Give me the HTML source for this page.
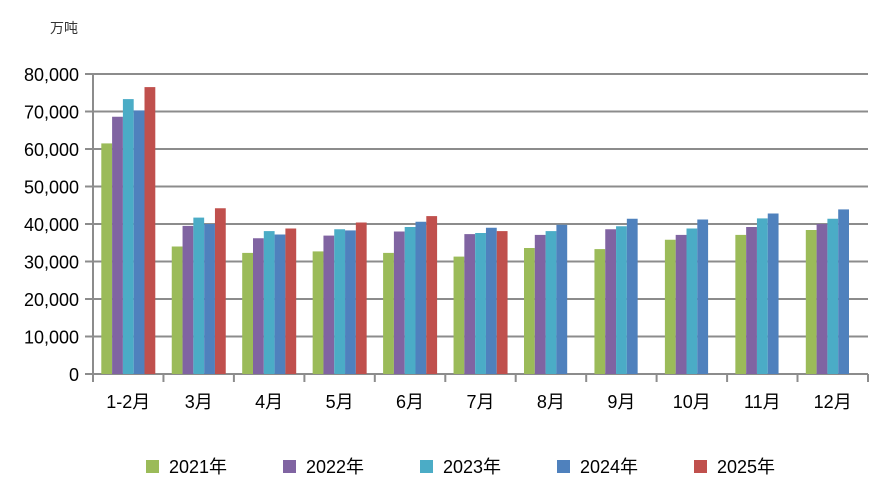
<!DOCTYPE html>
<html><head><meta charset="utf-8"><style>
html,body{margin:0;padding:0;background:#fff;}
svg{display:block;font-family:"Liberation Sans","Noto Sans CJK SC",sans-serif;}
</style></head><body>
<svg width="891" height="499" viewBox="0 0 891 499" xmlns="http://www.w3.org/2000/svg">
<text x="50" y="33" font-size="14" fill="#333">万吨</text>
<g stroke="#8c8c8c" stroke-width="2">
<line x1="85" x2="868" y1="374" y2="374"/>
<line x1="85" x2="868" y1="336.5" y2="336.5"/>
<line x1="85" x2="868" y1="299" y2="299"/>
<line x1="85" x2="868" y1="261.5" y2="261.5"/>
<line x1="85" x2="868" y1="224" y2="224"/>
<line x1="85" x2="868" y1="186.5" y2="186.5"/>
<line x1="85" x2="868" y1="149" y2="149"/>
<line x1="85" x2="868" y1="111.5" y2="111.5"/>
<line x1="85" x2="868" y1="74" y2="74"/>
<line x1="93" x2="93" y1="74" y2="382"/>
<line x1="163.45" x2="163.45" y1="374" y2="382"/>
<line x1="233.9" x2="233.9" y1="374" y2="382"/>
<line x1="304.4" x2="304.4" y1="374" y2="382"/>
<line x1="374.8" x2="374.8" y1="374" y2="382"/>
<line x1="445.3" x2="445.3" y1="374" y2="382"/>
<line x1="515.7" x2="515.7" y1="374" y2="382"/>
<line x1="586.2" x2="586.2" y1="374" y2="382"/>
<line x1="656.6" x2="656.6" y1="374" y2="382"/>
<line x1="727.1" x2="727.1" y1="374" y2="382"/>
<line x1="797.5" x2="797.5" y1="374" y2="382"/>
<line x1="868" x2="868" y1="374" y2="382"/>
</g>
<g font-size="18" fill="#000" text-anchor="end">
<text x="79" y="381">0</text>
<text x="79" y="343.5">10,000</text>
<text x="79" y="306">20,000</text>
<text x="79" y="268.5">30,000</text>
<text x="79" y="231">40,000</text>
<text x="79" y="193.5">50,000</text>
<text x="79" y="156">60,000</text>
<text x="79" y="118.5">70,000</text>
<text x="79" y="81">80,000</text>
</g>
<g font-size="18" fill="#000" text-anchor="middle">
<text x="128.2" y="408">1-2月</text>
<text x="198.7" y="408">3月</text>
<text x="269.1" y="408">4月</text>
<text x="339.6" y="408">5月</text>
<text x="410" y="408">6月</text>
<text x="480.5" y="408">7月</text>
<text x="550.9" y="408">8月</text>
<text x="621.4" y="408">9月</text>
<text x="691.8" y="408">10月</text>
<text x="762.3" y="408">11月</text>
<text x="832.7" y="408">12月</text>
</g>
<g transform="translate(101.3,0)">
<rect x="0" y="143.4" width="10.8" height="230.6" fill="#9bbb59"/><rect x="10.8" y="116.75" width="10.8" height="257.25" fill="#8064a2"/><rect x="21.6" y="99.1" width="10.8" height="274.9" fill="#4bacc6"/><rect x="32.4" y="110.4" width="10.8" height="263.6" fill="#4f81bd"/><rect x="43.2" y="87.1" width="10.8" height="286.9" fill="#c0504d"/>
</g>
<g transform="translate(171.75,0)">
<rect x="0" y="246.5" width="10.8" height="127.5" fill="#9bbb59"/><rect x="10.8" y="225.9" width="10.8" height="148.1" fill="#8064a2"/><rect x="21.6" y="217.6" width="10.8" height="156.4" fill="#4bacc6"/><rect x="32.4" y="224" width="10.8" height="150" fill="#4f81bd"/><rect x="43.2" y="208.25" width="10.8" height="165.75" fill="#c0504d"/>
</g>
<g transform="translate(242.2,0)">
<rect x="0" y="252.9" width="10.8" height="121.1" fill="#9bbb59"/><rect x="10.8" y="238.25" width="10.8" height="135.75" fill="#8064a2"/><rect x="21.6" y="231.1" width="10.8" height="142.9" fill="#4bacc6"/><rect x="32.4" y="234.5" width="10.8" height="139.5" fill="#4f81bd"/><rect x="43.2" y="228.5" width="10.8" height="145.5" fill="#c0504d"/>
</g>
<g transform="translate(312.65,0)">
<rect x="0" y="251.4" width="10.8" height="122.6" fill="#9bbb59"/><rect x="10.8" y="235.6" width="10.8" height="138.4" fill="#8064a2"/><rect x="21.6" y="229.25" width="10.8" height="144.75" fill="#4bacc6"/><rect x="32.4" y="230.4" width="10.8" height="143.6" fill="#4f81bd"/><rect x="43.2" y="222.5" width="10.8" height="151.5" fill="#c0504d"/>
</g>
<g transform="translate(383.1,0)">
<rect x="0" y="252.9" width="10.8" height="121.1" fill="#9bbb59"/><rect x="10.8" y="231.5" width="10.8" height="142.5" fill="#8064a2"/><rect x="21.6" y="227" width="10.8" height="147" fill="#4bacc6"/><rect x="32.4" y="221.75" width="10.8" height="152.25" fill="#4f81bd"/><rect x="43.2" y="216.1" width="10.8" height="157.9" fill="#c0504d"/>
</g>
<g transform="translate(453.55,0)">
<rect x="0" y="256.6" width="10.8" height="117.4" fill="#9bbb59"/><rect x="10.8" y="234.1" width="10.8" height="139.9" fill="#8064a2"/><rect x="21.6" y="233" width="10.8" height="141" fill="#4bacc6"/><rect x="32.4" y="227.75" width="10.8" height="146.25" fill="#4f81bd"/><rect x="43.2" y="231.1" width="10.8" height="142.9" fill="#c0504d"/>
</g>
<g transform="translate(524,0)">
<rect x="0" y="248" width="10.8" height="126" fill="#9bbb59"/><rect x="10.8" y="234.9" width="10.8" height="139.1" fill="#8064a2"/><rect x="21.6" y="231.1" width="10.8" height="142.9" fill="#4bacc6"/><rect x="32.4" y="224.75" width="10.8" height="149.25" fill="#4f81bd"/>
</g>
<g transform="translate(594.45,0)">
<rect x="0" y="249.1" width="10.8" height="124.9" fill="#9bbb59"/><rect x="10.8" y="229.25" width="10.8" height="144.75" fill="#8064a2"/><rect x="21.6" y="226.25" width="10.8" height="147.75" fill="#4bacc6"/><rect x="32.4" y="218.75" width="10.8" height="155.25" fill="#4f81bd"/>
</g>
<g transform="translate(664.9,0)">
<rect x="0" y="239.75" width="10.8" height="134.25" fill="#9bbb59"/><rect x="10.8" y="234.9" width="10.8" height="139.1" fill="#8064a2"/><rect x="21.6" y="228.5" width="10.8" height="145.5" fill="#4bacc6"/><rect x="32.4" y="219.5" width="10.8" height="154.5" fill="#4f81bd"/>
</g>
<g transform="translate(735.35,0)">
<rect x="0" y="234.9" width="10.8" height="139.1" fill="#9bbb59"/><rect x="10.8" y="227" width="10.8" height="147" fill="#8064a2"/><rect x="21.6" y="218.4" width="10.8" height="155.6" fill="#4bacc6"/><rect x="32.4" y="213.5" width="10.8" height="160.5" fill="#4f81bd"/>
</g>
<g transform="translate(805.8,0)">
<rect x="0" y="230" width="10.8" height="144" fill="#9bbb59"/><rect x="10.8" y="224" width="10.8" height="150" fill="#8064a2"/><rect x="21.6" y="218.75" width="10.8" height="155.25" fill="#4bacc6"/><rect x="32.4" y="209.4" width="10.8" height="164.6" fill="#4f81bd"/>
</g>
<g font-size="18" fill="#000">
<rect x="146" y="460" width="13" height="13" fill="#9bbb59"/><text x="169" y="473">2021年</text>
<rect x="283" y="460" width="13" height="13" fill="#8064a2"/><text x="306" y="473">2022年</text>
<rect x="420" y="460" width="13" height="13" fill="#4bacc6"/><text x="443" y="473">2023年</text>
<rect x="557" y="460" width="13" height="13" fill="#4f81bd"/><text x="580" y="473">2024年</text>
<rect x="694" y="460" width="13" height="13" fill="#c0504d"/><text x="717" y="473">2025年</text>
</g>
</svg>
</body></html>
